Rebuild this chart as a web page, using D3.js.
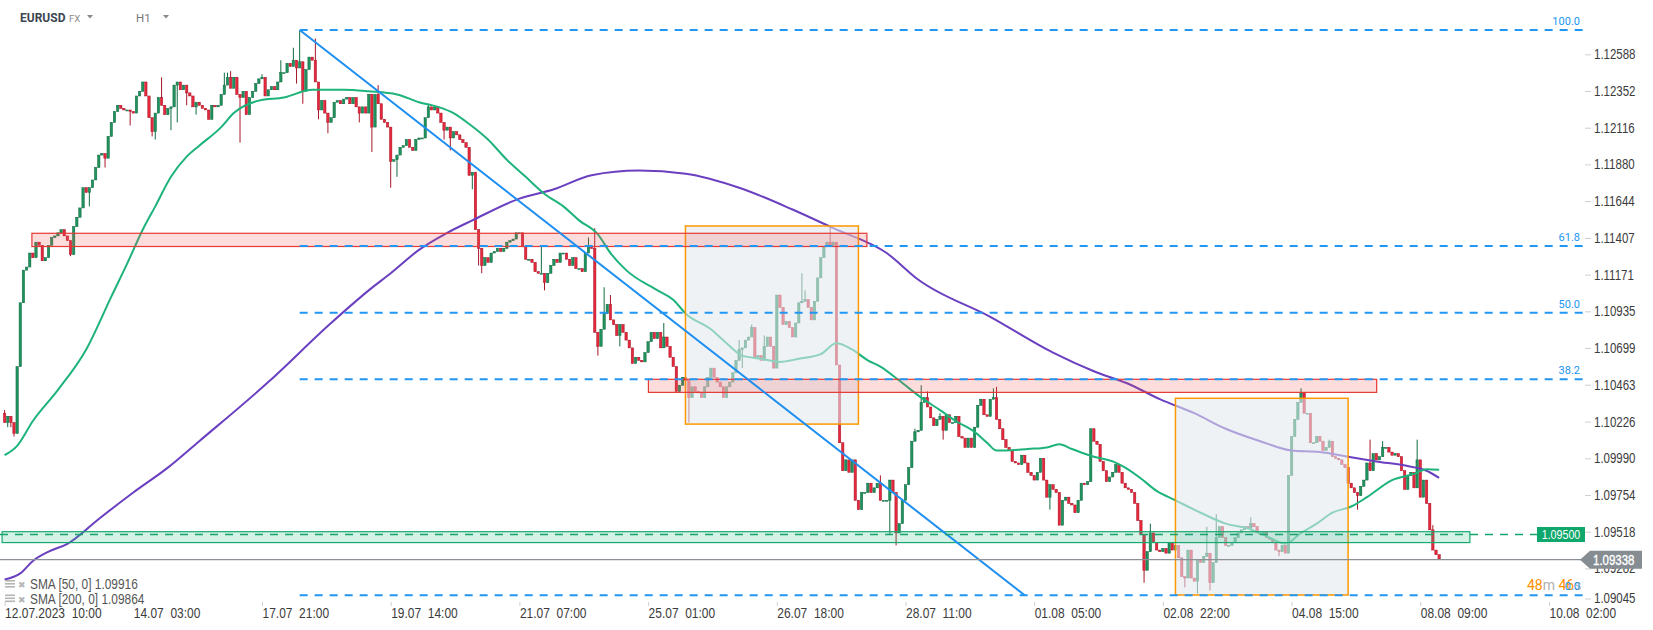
<!DOCTYPE html>
<html>
<head>
<meta charset="utf-8">
<script src="https://cdn.jsdelivr.net/npm/d3@7"></script>
<style>
html, body { margin: 0; padding: 0; background: #fff; }
svg { display: block; }
</style>
</head>
<body>
<svg id="chart" width="1653" height="630"></svg>
<script>
// EURUSD H1, bar 0 = 12.07.2023 10:00, one bar per trading hour
const firstOpen = 1.1028;
const closes = [
  1.1022,1.1026,1.1022,1.1015,1.1058,1.1099,1.1120,1.1122,1.1131,1.1128,
  1.1138,1.1136,1.1126,1.1128,1.1136,1.1141,1.1142,1.1144,1.1146,1.1142,
  1.1139,1.1130,1.1148,1.1154,1.1160,1.1173,1.1170,1.1173,1.1178,1.1186,
  1.1194,1.1195,1.1192,1.1206,1.1215,1.1222,1.1226,1.1224,1.1223,1.1223,
  1.1222,1.1221,1.1232,1.1235,1.1241,1.1232,1.1218,1.1209,1.1221,1.1231,
  1.1226,1.1220,1.1224,1.1225,1.1239,1.1241,1.1236,1.1239,1.1234,1.1232,
  1.1225,1.1228,1.1226,1.1224,1.1223,1.1217,1.1226,1.1225,1.1226,1.1233,
  1.1239,1.1244,1.1237,1.1244,1.1233,1.1231,1.1235,1.1220,1.1231,1.1235,
  1.1240,1.1243,1.1244,1.1232,1.1236,1.1238,1.1236,1.1241,1.1247,1.1247,
  1.1253,1.1251,1.1255,1.1250,1.1254,1.1235,1.1249,1.1257,1.1255,1.1241,
  1.1223,1.1229,1.1221,1.1215,1.1218,1.1228,1.1229,1.1227,1.1230,1.1231,
  1.1227,1.1231,1.1225,1.1221,1.1225,1.1221,1.1233,1.1212,1.1233,1.1227,
  1.1217,1.1215,1.1212,1.1190,1.1191,1.1194,1.1199,1.1200,1.1204,1.1199,
  1.1197,1.1204,1.1205,1.1205,1.1218,1.1225,1.1223,1.1225,1.1221,1.1215,
  1.1210,1.1212,1.1205,1.1209,1.1207,1.1204,1.1202,1.1199,1.1181,1.1183,
  1.1146,1.1134,1.1123,1.1128,1.1125,1.1131,1.1132,1.1134,1.1132,1.1134,
  1.1138,1.1139,1.1140,1.1144,1.1144,1.1135,1.1127,1.1127,1.1125,1.1119,
  1.1118,1.1118,1.1112,1.1118,1.1123,1.1127,1.1125,1.1131,1.1131,1.1127,
  1.1123,1.1128,1.1121,1.1121,1.1119,1.1131,1.1135,1.1134,1.1080,1.1071,
  1.1082,1.1092,1.1098,1.1088,1.1085,1.1078,1.1085,1.1080,1.1075,1.1070,
  1.1060,1.1064,1.1062,1.1061,1.1067,1.1074,1.1080,1.1076,1.1080,1.1070,
  1.1077,1.1071,1.1064,1.1058,1.1042,1.1046,1.1051,1.1049,1.1038,1.1045,
  1.1042,1.1041,1.1038,1.1045,1.1051,1.1057,1.1051,1.1048,1.1045,1.1038,
  1.1045,1.1048,1.1054,1.1062,1.1069,1.1070,1.1075,1.1077,1.1083,1.1064,
  1.1065,1.1062,1.1071,1.1077,1.1071,1.1057,1.1104,1.1096,1.1085,1.1087,
  1.1083,1.1077,1.1086,1.1099,1.1100,1.1101,1.1096,1.1088,1.1100,1.1115,
  1.1128,1.1135,1.1138,1.1136,1.1138,1.1059,1.1009,1.0991,1.0998,1.0990,
  1.0998,1.0972,1.0966,1.0977,1.0977,1.0983,1.0977,1.0980,1.0983,1.0972,
  1.0972,1.0972,1.0985,1.0977,1.0951,1.0957,1.0972,1.0982,1.0993,1.1010,
  1.1016,1.1017,1.1035,1.1038,1.1032,1.1025,1.1020,1.1024,1.1026,1.1017,
  1.1027,1.1022,1.1022,1.1026,1.1013,1.1012,1.1006,1.1012,1.1006,1.1019,
  1.1033,1.1037,1.1027,1.1026,1.1037,1.1038,1.1024,1.1018,1.1011,1.1006,
  1.1004,1.0997,1.0996,1.0995,1.1001,1.0996,1.0990,1.0988,1.0985,1.0990,
  1.0999,1.0985,1.0974,1.0982,1.0979,1.0977,1.0956,1.0972,1.0974,1.0970,
  1.0969,1.0964,1.0972,1.0983,1.0982,1.0984,1.1018,1.1010,1.1008,1.0997,
  1.0991,1.0984,1.0987,1.0990,1.0995,1.0990,1.0983,1.0980,1.0979,1.0977,
  1.0970,1.0959,1.0950,1.0927,1.0939,1.0951,1.0945,1.0940,1.0939,1.0941,
  1.0938,1.0945,1.0940,1.0943,1.0935,1.0923,1.0922,1.0940,1.0922,1.0920,
  1.0934,1.0932,1.0936,1.0938,1.0919,1.0932,1.0948,1.0955,1.0948,1.0943,
  1.0943,1.0945,1.0948,1.0951,1.0953,1.0955,1.0954,1.0957,1.0955,1.0951,
  1.0950,1.0952,1.0948,1.0947,1.0945,1.0940,1.0939,1.0943,1.0938,1.0988,
  1.1013,1.1024,1.1035,1.1041,1.1028,1.1028,1.1009,1.1009,1.1013,1.1010,
  1.1004,1.1006,1.1010,1.1000,1.0999,1.0998,1.0995,1.0993,1.0983,1.0980,
  1.0977,1.0975,1.0981,1.0985,1.0996,1.0991,1.1002,1.0998,1.1000,1.1006,
  1.1006,1.1003,1.1001,1.1002,1.1000,1.0991,1.0979,1.0988,1.0990,1.0980,
  1.0998,1.0974,1.0985,1.0970,1.0953,1.0940,1.0937,1.09338
];

// wicks that reach past the body: [bar, price]
const highs = [[0,1.1030],[50,1.1244],[70,1.1247],[71,1.1247],[72,1.1248],[82,1.1246],[88,1.1255],[92,1.1263],
  [94,1.1274],[99,1.1269],[119,1.1239],[135,1.1227],[171,1.1136],[186,1.1141],[188,1.1147],[191,1.1109],
  [193,1.1104],[210,1.1086],[234,1.1075],[238,1.1085],[242,1.1078],[254,1.1118],[255,1.1107],[263,1.1148],
  [279,1.0988],[290,1.1018],[292,1.1046],[294,1.1042],[298,1.1028],[315,1.1044],[316,1.1045],[365,1.0957],
  [383,1.0955],[386,1.0963],[397,1.0961],[413,1.1044],[422,1.1011],[435,1.1011],[439,1.1010],[450,1.1011],[455,1.0956]];
const lows = [[1,1.1019],[2,1.1019],[3,1.1013],[21,1.1129],[27,1.1161],[32,1.1186],[40,1.1213],[47,1.1206],
  [48,1.1204],[53,1.1210],[55,1.1215],[58,1.1226],[61,1.1220],[75,1.1202],[93,1.1240],[95,1.1227],[100,1.1217],
  [103,1.1208],[113,1.1215],[117,1.1196],[123,1.1173],[125,1.1180],[140,1.1204],[142,1.1197],[149,1.1172],
  [151,1.1123],[152,1.1118],[172,1.1107],[189,1.1065],[196,1.1071],[218,1.1022],[235,1.1057],[282,1.0950],
  [284,1.0943],[299,1.1011],[333,1.0966],[363,1.0919],[376,1.0916],[380,1.0912],[384,1.0914],[406,1.0936],[431,1.0966]];

// moving averages: [bar, value]
const sma50 = [[0,1.1001],[4,1.1007],[9,1.1023],[17,1.1043],[26,1.1069],[34,1.1103],[39,1.1124],[44,1.1146],
  [48,1.1161],[53,1.1180],[58,1.1193],[62,1.1200],[69,1.1212],[73,1.1221],[81,1.1229],[89,1.1231],[98,1.1236],
  [108,1.1236],[116,1.1235],[125,1.1233],[132,1.1228],[138,1.1225],[143,1.1221],[148,1.1214],[154,1.1204],
  [160,1.1191],[166,1.1180],[172,1.1169],[178,1.1161],[183,1.1152],[189,1.1143],[193,1.1131],[198,1.1120],
  [208,1.1107],[213,1.1101],[217,1.1092],[225,1.1082],[230,1.1073],[235,1.1065],[241,1.1063],[247,1.1061],
  [253,1.1063],[260,1.1066],[265,1.1073],[270,1.1069],[275,1.1062],[279,1.1058],[285,1.1049],[292,1.1038],
  [298,1.1030],[303,1.1023],[309,1.1016],[313,1.1009],[316,1.1004],[319,1.1004],[326,1.1005],[332,1.1006],
  [336,1.1008],[340,1.1005],[347,1.1000],[353,1.0997],[357,1.0993],[362,1.0986],[367,1.0978],[373,1.0972],
  [381,1.0964],[389,1.0957],[396,1.0954],[402,1.0949],[408,1.0944],[413,1.0951],[418,1.0957],[423,1.0964],
  [429,1.0968],[434,1.0974],[442,1.0985],[449,1.0989],[453,1.0992],[457,1.09916]];
const sma200 = [[0,1.0921],[5,1.0925],[9,1.0933],[14,1.0939],[20,1.0944],[30,1.0960],[41,1.0977],[52,1.0993],
  [62,1.1010],[84,1.1048],[104,1.1086],[116,1.1107],[123,1.1118],[132,1.1133],[141,1.1144],[149,1.1152],
  [164,1.1166],[175,1.1172],[187,1.1181],[202,1.1184],[217,1.1182],[234,1.1173],[251,1.1159],[264,1.1147],
  [281,1.1131],[291,1.1114],[314,1.1090],[334,1.1067],[347,1.1055],
  [359,1.1046],[368,1.1037],[379,1.1028],[389,1.1018],[400,1.1010],[410,1.1004],[419,1.1003],[428,1.1000],
  [437,1.0997],[447,1.0994],[453,1.0991],[457,1.09864]];

const timeLabels = ["12.07.2023  10:00","14.07  03:00","17.07  21:00","19.07  14:00","21.07  07:00","25.07  01:00",
  "26.07  18:00","28.07  11:00","01.08  05:00","02.08  22:00","04.08  15:00","08.08  09:00","10.08  02:00"];
const barsPerLabel = 41;
const priceTicks = [1.12588,1.12352,1.12116,1.11880,1.11644,1.11407,1.11171,1.10935,1.10699,1.10463,
  1.10226,1.09990,1.09754,1.09518,1.09282,1.09045];

// drawings
const fibHigh = 1.12744, fibLow = 1.09109, fibStart = 94;
const fibLevels = [100, 61.8, 50, 38.2, 0];
const trendLine = [[94, 1.12744], [325, 1.09109]];
const resistZones = [[8.7, 274.7, 1.11437, 1.11352], [205.1, 437.1, 1.10498, 1.10414]];
const supportZone = [-0.8, 466.8, 1.09518, 1.09448];
const rangeBoxes = [[216.9, 272.0, 1.11484, 1.10210], [373.0, 428.0, 1.10376, 1.09111]];
const levelLine = 1.09500;
const lastPrice = 1.09338;

const plotRight = 1585;
const svg = d3.select("#chart");
const x = d3.scaleLinear().domain([0, barsPerLabel * 12]).range([4.6, 1549]);
const y = d3.scaleLinear().domain([1.12588, 1.09518]).range([54.3, 531.7]);

// no narrow face installed: squeeze Liberation Sans to narrow proportions
function narrow(sel, size) {
  sel.attr("font-family", "'Liberation Sans', Arial, sans-serif").attr("font-size", size)
    .each(function() {
      const w = this.getComputedTextLength();
      d3.select(this).attr("textLength", w * 0.82).attr("lengthAdjust", "spacingAndGlyphs");
    });
}

const hiMap = new Map(highs), loMap = new Map(lows);
const bars = closes.map((c, i) => {
  const o = i === 0 ? firstOpen : closes[i - 1];
  const h = Math.max(o, c, hiMap.has(i) ? hiMap.get(i) : -1);
  const l = Math.min(o, c, loMap.has(i) ? loMap.get(i) : 9);
  return { i, o, c, h, l, up: c >= o };
});

const upFill = "#20925e", upLine = "#116b41", dnFill = "#e6283c", dnLine = "#a8162a";

// candles
const cg = svg.append("g");
cg.selectAll("line").data(bars).join("line")
  .attr("x1", d => x(d.i)).attr("x2", d => x(d.i))
  .attr("y1", d => y(d.h)).attr("y2", d => y(d.l))
  .attr("stroke", d => d.up ? upLine : dnLine).attr("stroke-width", 1);
cg.selectAll("rect").data(bars).join("rect")
  .attr("x", d => x(d.i) - 1.2).attr("width", 2.4)
  .attr("y", d => y(Math.max(d.o, d.c)))
  .attr("height", d => Math.max(1, Math.abs(y(d.o) - y(d.c))))
  .attr("fill", d => d.up ? upFill : dnFill)
  .attr("stroke", d => d.up ? upLine : dnLine).attr("stroke-width", 0.5);

// moving averages
const maLine = d3.line().x(d => x(d[0])).y(d => y(d[1])).curve(d3.curveMonotoneX);
svg.append("path").attr("d", maLine(sma200)).attr("fill", "none").attr("stroke", "#6a3fc0").attr("stroke-width", 2);
svg.append("path").attr("d", maLine(sma50)).attr("fill", "none").attr("stroke", "#1db37a").attr("stroke-width", 2);

// range boxes
svg.append("g").selectAll("rect").data(rangeBoxes).join("rect")
  .attr("x", d => x(d[0])).attr("width", d => x(d[1]) - x(d[0]))
  .attr("y", d => y(d[2])).attr("height", d => y(d[3]) - y(d[2]))
  .attr("fill", "rgba(226,233,237,0.58)").attr("stroke", "#ff9800").attr("stroke-width", 1.5);

// zones
svg.append("g").selectAll("rect").data(resistZones).join("rect")
  .attr("x", d => x(d[0])).attr("width", d => x(d[1]) - x(d[0]))
  .attr("y", d => y(d[2])).attr("height", d => y(d[3]) - y(d[2]))
  .attr("fill", "rgba(239,83,80,0.2)").attr("stroke", "#e53935").attr("stroke-width", 1.2);
svg.append("rect")
  .attr("x", x(supportZone[0])).attr("width", x(supportZone[1]) - x(supportZone[0]))
  .attr("y", y(supportZone[2])).attr("height", y(supportZone[3]) - y(supportZone[2]))
  .attr("fill", "rgba(38,190,130,0.2)").attr("stroke", "#19a86f").attr("stroke-width", 1.2);

// fibonacci
const fg = svg.append("g");
fibLevels.forEach(p => {
  const v = fibLow + (fibHigh - fibLow) * p / 100;
  fg.append("line").attr("x1", x(fibStart)).attr("x2", plotRight)
    .attr("y1", y(v)).attr("y2", y(v))
    .attr("stroke", "#2196f3").attr("stroke-width", 2).attr("stroke-dasharray", "8,7");
  fg.append("text").attr("x", plotRight - 5).attr("y", y(v) - 5)
    .attr("text-anchor", "end").attr("font-family", "Roboto, sans-serif").attr("font-size", 11)
    .attr("fill", "#2196f3").text(d3.format(".1f")(p));
});

// trend line
svg.append("line")
  .attr("x1", x(trendLine[0][0])).attr("y1", y(trendLine[0][1]))
  .attr("x2", x(trendLine[1][0])).attr("y2", y(trendLine[1][1]))
  .attr("stroke", "#1e8ff0").attr("stroke-width", 2);

// horizontal level 1.09500
svg.append("line").attr("x1", 0).attr("x2", 1537).attr("y1", y(levelLine)).attr("y2", y(levelLine))
  .attr("stroke", "#17a46c").attr("stroke-width", 1.5).attr("stroke-dasharray", "8,7");
svg.append("rect").attr("x", 1537).attr("y", y(levelLine) - 7.5).attr("width", 48).attr("height", 15)
  .attr("fill", "#0fa86c");
svg.append("text").attr("x", 1561).attr("y", y(levelLine) + 4.5)
  .attr("text-anchor", "middle").attr("fill", "#fff").text(d3.format(".5f")(levelLine))
  .call(narrow, 13);

// current price line
svg.append("line").attr("x1", 0).attr("x2", plotRight).attr("y1", y(lastPrice)).attr("y2", y(lastPrice))
  .attr("stroke", "#8a9096").attr("stroke-width", 1.2);

// price axis
const yAxis = svg.append("g").attr("transform", `translate(${plotRight},0)`)
  .call(d3.axisRight(y).tickValues(priceTicks).tickSize(6).tickPadding(3).tickFormat(d3.format(".5f")));
yAxis.select(".domain").remove();
yAxis.selectAll("line").attr("stroke", "#cfcfcf");
yAxis.selectAll("text").attr("fill", "#3b3b3b").call(narrow, 14);
yAxis.selectAll(".tick").filter(d => y(d) > 599)
  .attr("transform", "translate(0,599)");

// current price label
const py = y(lastPrice);
svg.append("path")
  .attr("d", `M1580,${py} L1590,${py - 9} L1642,${py - 9} L1642,${py + 9} L1590,${py + 9} Z`)
  .attr("fill", "#858c92");
svg.append("text").attr("x", 1593).attr("y", py + 5)
  .attr("fill", "#fff").attr("stroke", "#fff").attr("stroke-width", 0.35)
  .text(d3.format(".5f")(lastPrice)).call(narrow, 14);

// time axis
const xAxis = svg.append("g").attr("transform", "translate(0,602)")
  .call(d3.axisBottom(x).tickValues(timeLabels.map((t, k) => k * barsPerLabel))
    .tickSize(4).tickPadding(2).tickFormat((d, k) => timeLabels[k]));
xAxis.select(".domain").remove();
xAxis.selectAll("line").attr("stroke", "#d0d0d0");
xAxis.selectAll("text").attr("text-anchor", "start").attr("fill", "#3b3b3b")
  .style("white-space", "pre").call(narrow, 14.6);

// candle timer
const timer = svg.append("text").attr("x", 1527).attr("y", 590)
  .attr("font-family", "Roboto, sans-serif").attr("font-size", 14);
timer.append("tspan").attr("fill", "#ff8f00").text("48");
timer.append("tspan").attr("fill", "#b0b0b0").text("m ");
timer.append("tspan").attr("fill", "#ff8f00").text("46");
timer.append("tspan").attr("fill", "#b0b0b0").text("s");
fg.raise();

// indicator legend
const legend = [["SMA [50, 0] ", sma50[sma50.length - 1][1]], ["SMA [200, 0] ", sma200[sma200.length - 1][1]]];
legend.forEach((row, k) => {
  const ly = 588 + k * 14.5;
  const g = svg.append("g");
  [0, 3, 6].forEach(dy => g.append("rect").attr("x", 5).attr("y", ly - 8 + dy).attr("width", 10).attr("height", 1.6).attr("fill", "#b5b5b5"));
  g.append("text").attr("x", 18).attr("y", ly).attr("font-family", "DejaVu Sans, sans-serif")
    .attr("font-size", 9).attr("fill", "#b5b5b5").text("\u2716");
  g.append("text").attr("x", 30).attr("y", ly + 1)
    .attr("fill", "#555").text(row[0] + d3.format(".5f")(row[1])).call(narrow, 14.5);
});

// header
svg.append("text").attr("x", 20).attr("y", 22).attr("font-family", "Roboto, sans-serif")
  .attr("font-weight", "bold").attr("font-size", 12).attr("fill", "#3c4650").text("EURUSD");
svg.append("text").attr("x", 69).attr("y", 22).attr("font-family", "Roboto, sans-serif")
  .attr("font-size", 9.5).attr("fill", "#8a8a8a").text("FX");
svg.append("text").attr("x", 136).attr("y", 22).attr("font-family", "Roboto, sans-serif")
  .attr("font-size", 11.5).attr("fill", "#777").text("H1");
[[87, 15], [163, 15]].forEach(t => svg.append("path")
  .attr("d", `M${t[0]},${t[1]} l6,0 l-3,3.5 Z`).attr("fill", "#888"));
</script>
</body>
</html>
